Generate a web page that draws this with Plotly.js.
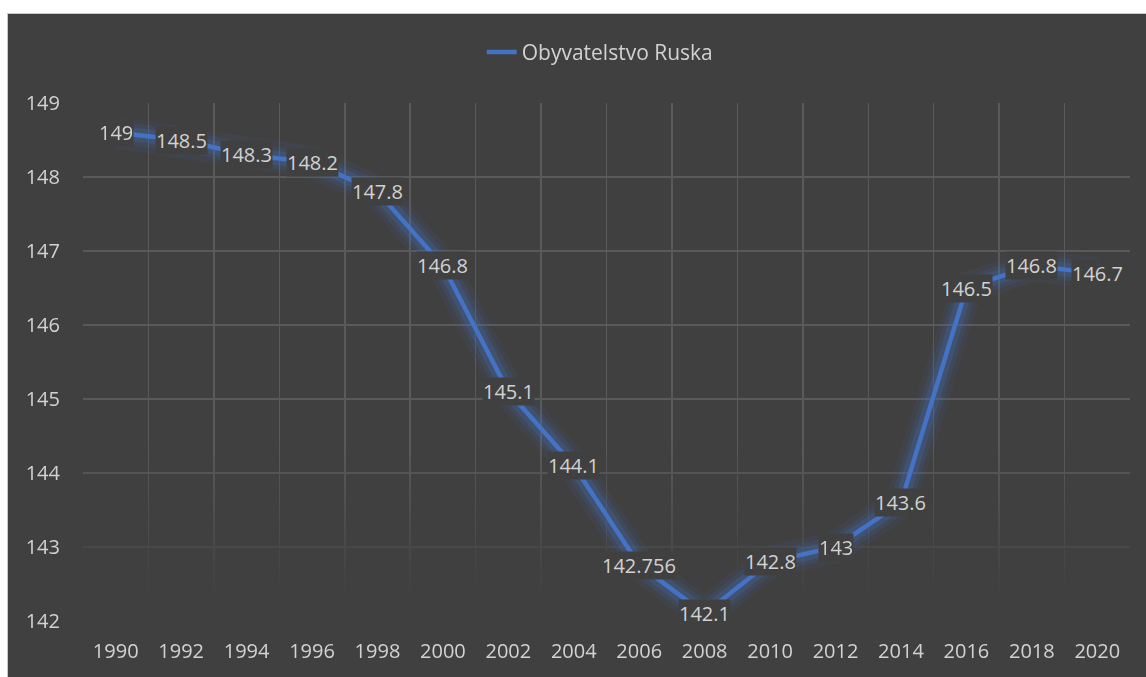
<!DOCTYPE html>
<html>
<head>
<meta charset="utf-8">
<script src="https://cdn.plot.ly/plotly-3.0.1.min.js"></script>
<style>
  html, body { margin: 0; padding: 0; background: #ffffff; width: 1146px; height: 677px; overflow: hidden; }
  #frame { position: absolute; left: 7px; top: 13px; width: 1139px; height: 664px; border-left: 1px solid #c8c8c8; border-top: 1px solid #c8c8c8; background: #404040; }
  #chart { position: absolute; left: 0; top: 0; width: 1139px; height: 664px; }
</style>
</head>
<body>
<div id="frame"><div id="chart"></div></div>
<script>
const years = ["1990","1992","1994","1996","1998","2000","2002","2004","2006","2008","2010","2012","2014","2016","2018","2020"];
const population = [148.6, 148.5, 148.3, 148.2, 147.8, 146.8, 145.1, 144.1, 142.756, 142.1, 142.8, 143, 143.6, 146.5, 146.8, 146.7];
const labelTexts = ["149","148.5","148.3","148.2","147.8","146.8","145.1","144.1","142.756","142.1","142.8","143","143.6","146.5","146.8","146.7"];
const seriesName = "Obyvatelstvo Ruska";
const yTicks = [142, 143, 144, 145, 146, 147, 148, 149];

const lineColor = "#4472C4";
const bg = "#404040";
const textColor = "#d2d2d2";
const fontFam = "'Open Sans', 'Noto Sans', sans-serif";

const glow = [[32, 0.08], [22, 0.13], [14, 0.22]].map(([w, a]) => ({
  x: years, y: population, type: "scatter", mode: "lines",
  line: { color: "rgba(68,114,196," + a + ")", width: w },
  showlegend: false, hoverinfo: "skip"
}));

const main = {
  x: years, y: population, type: "scatter", mode: "lines",
  name: seriesName,
  line: { color: lineColor, width: 4.5 }
};

const annotations = years.map((yr, i) => ({
  x: i, y: population[i], xref: "x", yref: "y",
  text: labelTexts[i], showarrow: false,
  xanchor: "center", yanchor: "middle",
  bgcolor: bg, borderpad: 0,
  font: { family: fontFam, size: 20, color: textColor }
}));

const layout = {
  width: 1139, height: 664,
  paper_bgcolor: bg, plot_bgcolor: bg,
  margin: { l: 75, r: 17, t: 89, b: 57 },
  font: { family: fontFam, size: 20, color: textColor },
  showlegend: true,
  legend: {
    orientation: "h", x: 0.494, xanchor: "center", y: 1.098, yanchor: "middle",
    bgcolor: "rgba(0,0,0,0)", font: { family: fontFam, size: 21, color: textColor }
  },
  xaxis: {
    type: "category", categoryorder: "array", categoryarray: years,
    range: [-0.5, years.length - 0.5], autorange: false,
    tickson: "boundaries", tickangle: 0,
    showgrid: true, gridcolor: "#5a5a5a", gridwidth: 1.5,
    zeroline: false, showline: false,
    ticks: "outside", ticklen: 16, tickcolor: "rgba(0,0,0,0)",
    ticklabelstandoff: 16,
    tickfont: { family: fontFam, size: 20, color: textColor },
    fixedrange: true
  },
  yaxis: {
    range: [142, 149], autorange: false, tickvals: yTicks, ticktext: yTicks.map(String),
    showgrid: true, gridcolor: "#5a5a5a", gridwidth: 1.5,
    zeroline: false, showline: false,
    ticks: "outside", ticklen: 18, tickcolor: "rgba(0,0,0,0)",
    tickfont: { family: fontFam, size: 20, color: textColor },
    fixedrange: true
  },
  annotations: annotations
};

Plotly.newPlot("chart", [...glow, main], layout, { displayModeBar: false, staticPlot: true }).then(gd => {
  // Fade the lower part of the gridlines, as in the reference
  const fl = gd._fullLayout;
  const ya = fl.yaxis;
  const top = fl._size.t;
  const yFadeStart = top + ya.l2p(144.4);
  const yFadeEnd = top + ya.l2p(142.3);
  const NS = "http://www.w3.org/2000/svg";
  const svg = gd.querySelector(".main-svg");
  let defs = svg.querySelector("defs");
  if (!defs) { defs = document.createElementNS(NS, "defs"); svg.insertBefore(defs, svg.firstChild); }
  const grad = document.createElementNS(NS, "linearGradient");
  grad.setAttribute("id", "gridFade");
  grad.setAttribute("gradientUnits", "userSpaceOnUse");
  grad.setAttribute("x1", "0"); grad.setAttribute("x2", "0");
  grad.setAttribute("y1", String(yFadeStart)); grad.setAttribute("y2", String(yFadeEnd));
  [["0", "1"], ["1", "0"]].forEach(([o, op]) => {
    const s = document.createElementNS(NS, "stop");
    s.setAttribute("offset", o); s.setAttribute("stop-color", "#fff"); s.setAttribute("stop-opacity", op);
    grad.appendChild(s);
  });
  defs.appendChild(grad);
  const mask = document.createElementNS(NS, "mask");
  mask.setAttribute("id", "gridMask");
  mask.setAttribute("maskUnits", "userSpaceOnUse");
  mask.setAttribute("x", "0"); mask.setAttribute("y", "0");
  mask.setAttribute("width", String(fl.width)); mask.setAttribute("height", String(fl.height));
  const r = document.createElementNS(NS, "rect");
  r.setAttribute("x", "0"); r.setAttribute("y", "0");
  r.setAttribute("width", String(fl.width)); r.setAttribute("height", String(fl.height));
  r.setAttribute("fill", "url(#gridFade)");
  mask.appendChild(r);
  defs.appendChild(mask);
  gd.querySelectorAll(".gridlayer").forEach(g => g.setAttribute("mask", "url(#gridMask)"));
});
</script>
</body>
</html>
